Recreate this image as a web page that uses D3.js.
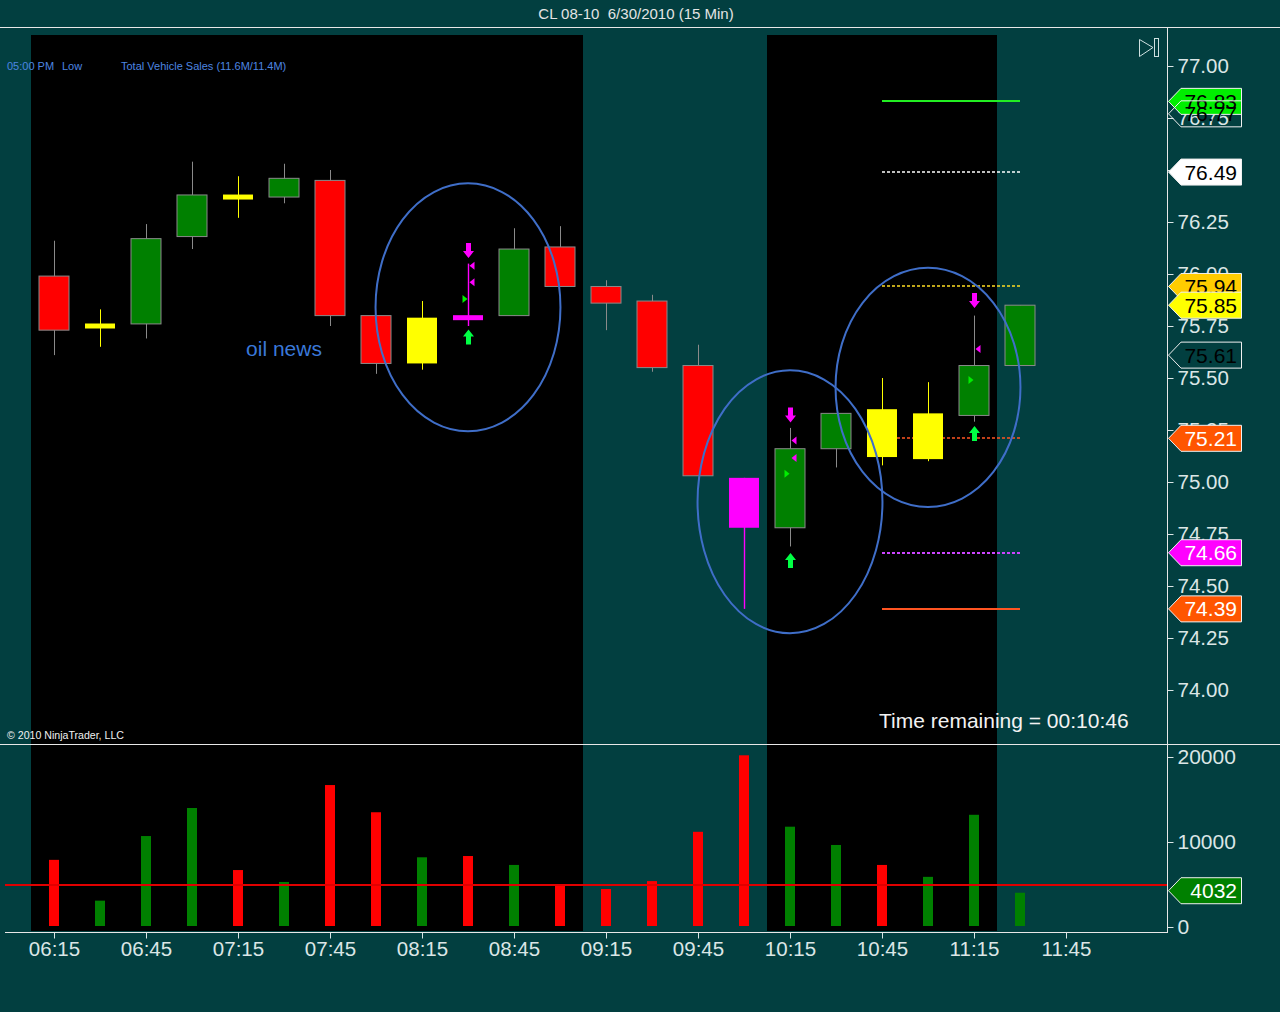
<!DOCTYPE html>
<html><head><meta charset="utf-8">
<script src="https://cdn.jsdelivr.net/npm/d3@7"></script>
<style>
html,body{margin:0;padding:0;background:#023f40;}
svg{display:block;font-family:"Liberation Sans",Arial,sans-serif;}
</style></head><body>
<svg id="c" width="1280" height="1012"></svg>
<script>
// ---------- DATA ----------
const times = ["06:15","06:30","06:45","07:00","07:15","07:30","07:45","08:00","08:15","08:30","08:45","09:00","09:15","09:30","09:45","10:00","10:15","10:30","10:45","11:00","11:15","11:30","11:45"];
const opens  = [75.99,75.75,75.76,76.18,76.37,76.37,76.45,75.80,75.57,75.79,75.80,76.13,75.94,75.87,75.56,75.02,74.78,75.16,75.35,75.11,75.32,75.56];
const highs  = [76.16,75.83,76.24,76.54,76.47,76.53,76.50,75.80,75.87,76.05,76.22,76.23,75.97,75.90,75.66,75.02,75.26,75.33,75.50,75.48,75.80,75.85];
const lows   = [75.61,75.65,75.69,76.12,76.27,76.34,75.75,75.52,75.54,75.75,75.80,75.94,75.73,75.53,75.03,74.39,74.69,75.07,75.08,75.10,75.29,75.56];
const closes = [75.73,75.75,76.17,76.38,76.37,76.46,75.80,75.57,75.79,75.79,76.12,75.94,75.86,75.55,75.03,74.78,75.16,75.33,75.12,75.33,75.56,75.85];
const candleColors = ["red","yellow","green","green","yellow","green","red","red","yellow","magenta","green","red","red","red","red","magenta","green","green","yellow","yellow","green","green"];
const volumes = [7900,3100,10700,14000,6700,5300,16700,13500,8200,8350,7300,5050,4470,5400,11200,20200,11800,9650,7300,5900,13200,4032];
const volColors = ["red","green","green","green","red","green","red","red","green","red","green","red","red","red","red","red","green","green","red","green","green","green"];
const volAverage = 4950;
const priceTicks = [74.00,74.25,74.50,74.75,75.00,75.25,75.50,75.75,76.00,76.25,76.50,76.75,77.00];
const volTicks = [0,10000,20000];
const timeTickIdx = [0,2,4,6,8,10,12,14,16,18,20,22];
const sessionBands = [[-0.5,11.5],[15.5,20.5]];

const levelPrices = [76.83,76.49,75.94,75.21,74.66,74.39];
const levelColors = ["#22ee22","#ffffff","#ffdd22","#ff5522","#cc44ff","#ff5522"];
const levelDashed = [false,true,true,true,true,false];
const levelWidths = [2,1.3,1.3,1.6,1.8,2];
const levelFrom = 18, levelTo = 21;

const tagPrices = [76.83,76.77,76.49,75.94,75.85,75.61,75.21,74.66,74.39];
const tagFills  = ["#00ee00","none","#ffffff","#ffcc00","#ffff00","none","#ff5500","#ff00ff","#ff5500"];
const tagText   = ["#000","#000","#000","#000","#000","#000","#fff","#fff","#fff"];

const markerIdx   = [9,9,9,9,9, 16,16,16,16,16, 20,20,20,20];
const markerPrice = [76.11,76.04,75.96,75.88,75.70, 75.32,75.20,75.115,75.04,74.625, 75.87,75.64,75.49,75.235];
const markerType  = ["down","tl","tl","tr","up", "down","tl","tl","tr","up", "down","tl","tr","up"];

const ellipseIdx = [9,16,19];
const ellipsePrice = [75.84,74.905,75.455];
const ellipseHalfBars = [2.01,2.01,2.01];
const ellipseHalfPrice = [0.596,0.632,0.575];

// ---------- SCALES ----------
const svg = d3.select("#c");
const x = d3.scaleLinear().domain([0,22]).range([54,1066]);
const yP = d3.scaleLinear().domain([74,77]).range([690,66]);
const yV = d3.scaleLinear().domain([0,20000]).range([927,757]);
const axisX = 1167;
const colorMap = {red:"#ff0000",green:"#008000",yellow:"#ffff00",magenta:"#ff00ff"};
const fg = "#dbe6e6";
const FONT = "\"Liberation Sans\",Arial,sans-serif";

// background
svg.append("rect").attr("width",1280).attr("height",1012).attr("fill","#023f40");

// session bands
svg.selectAll("rect.band").data(sessionBands).join("rect").attr("class","band")
  .attr("x",d=>x(d[0])).attr("width",d=>x(d[1])-x(d[0]))
  .attr("y",35).attr("height",896).attr("fill","#000");

// title + frame lines
svg.append("text").attr("x",636).attr("y",19).attr("text-anchor","middle")
  .attr("fill","#e4e4e4").attr("font-size",15).text("CL 08-10\u00A0\u00A06/30/2010 (15 Min)");
svg.append("line").attr("x1",0).attr("x2",1280).attr("y1",27.5).attr("y2",27.5).attr("stroke","#e8e8e8");
svg.append("line").attr("x1",0).attr("x2",1280).attr("y1",744.5).attr("y2",744.5).attr("stroke","#e8e8e8");

// event text
const ev = svg.append("g").attr("font-size",11).attr("fill","#4d86e0");
ev.append("text").attr("x",7).attr("y",70).text("05:00 PM");
ev.append("text").attr("x",62).attr("y",70).text("Low");
ev.append("text").attr("x",121).attr("y",70).text("Total Vehicle Sales (11.6M/11.4M)");
svg.append("text").attr("x",7).attr("y",739).attr("font-size",10.6).attr("fill","#f0f0f0").text("\u00A9 2010 NinjaTrader, LLC");

// level lines
svg.selectAll("line.lvl").data(levelPrices).join("line").attr("class","lvl")
  .attr("x1",x(levelFrom)).attr("x2",x(levelTo))
  .attr("y1",d=>Math.round(yP(d))).attr("y2",d=>Math.round(yP(d)))
  .attr("stroke",(d,i)=>levelColors[i]).attr("stroke-width",(d,i)=>levelWidths[i])
  .attr("stroke-dasharray",(d,i)=>levelDashed[i]?"3,2":null);

// candles
const cg = svg.append("g");
const bw = 30;
opens.forEach((o,i)=>{
  const c = closes[i], col = candleColors[i];
  const cx = x(i);
  const wickCol = (col==="yellow")?"#ffff00":(col==="magenta"?"#ff00ff":"#8a8a8a");
  cg.append("line").attr("x1",cx+0.5).attr("x2",cx+0.5).attr("y1",yP(highs[i])).attr("y2",yP(lows[i]))
    .attr("stroke",wickCol).attr("stroke-width",(col==="magenta")?1.4:1);
  let top = yP(Math.max(o,c)), bot = yP(Math.min(o,c));
  if (bot-top < 5) { const m=(top+bot)/2; top=m-2.5; bot=m+2.5; }
  cg.append("rect").attr("x",cx-bw/2).attr("width",bw).attr("y",top).attr("height",bot-top)
    .attr("fill",colorMap[col])
    .attr("stroke",(col==="red"||col==="green")?"#8a8a8a":"none").attr("stroke-width",1);
});

// markers
const mg = svg.append("g");
markerIdx.forEach((idx,k)=>{
  const cx = x(idx)+0.5, cy = yP(markerPrice[k]), t = markerType[k];
  if (t==="down") {
    mg.append("path").attr("d",`M${cx-2.5},${cy-8} h5 v8 h3 l-5.5,7 l-5.5,-7 h3 z`).attr("fill","#ff00ff");
  } else if (t==="up") {
    mg.append("path").attr("d",`M${cx-2.5},${cy+8} h5 v-8 h3 l-5.5,-7 l-5.5,7 h3 z`).attr("fill","#00ff44");
  } else if (t==="tl") {
    mg.append("path").attr("d",`M${cx+1},${cy} l5,-4 v8 z`).attr("fill","#ff00ff");
  } else if (t==="tr") {
    mg.append("path").attr("d",`M${cx-1},${cy} l-5,-4 v8 z`).attr("fill","#00ee00");
  }
});

// ellipses
svg.selectAll("ellipse.ann").data(ellipseIdx).join("ellipse").attr("class","ann")
  .attr("cx",(d)=>x(d)).attr("cy",(d,i)=>yP(ellipsePrice[i]))
  .attr("rx",(d,i)=>x(ellipseHalfBars[i])-x(0))
  .attr("ry",(d,i)=>yP(0)-yP(ellipseHalfPrice[i])+0)
  .attr("fill","none").attr("stroke","#3f6ec8").attr("stroke-width",2);

svg.append("text").attr("x",x(5)).attr("y",yP(75.64)).attr("text-anchor","middle").attr("dy","0.35em")
  .attr("font-size",21).attr("fill","#3a78d8").text("oil news");

svg.append("text").attr("x",879).attr("y",728).attr("font-size",21).attr("fill","#f2f2f2").text("Time remaining = 00:10:46");

// volume
svg.append("g").selectAll("rect").data(volumes).join("rect")
  .attr("x",(d,i)=>x(i)-5).attr("width",10)
  .attr("y",d=>yV(d)).attr("height",d=>yV(0)-yV(d)-1)
  .attr("fill",(d,i)=>colorMap[volColors[i]]);
svg.append("line").attr("x1",5).attr("x2",axisX).attr("y1",Math.round(yV(volAverage))).attr("y2",Math.round(yV(volAverage)))
  .attr("stroke","#e00000").attr("stroke-width",2);

// axes
const pAxis = d3.axisRight(yP).tickValues(priceTicks).tickSize(6).tickPadding(4).tickFormat(d3.format(".2f"));
const gp = svg.append("g").attr("transform",`translate(${axisX+0.5},0)`).call(pAxis);
const vAxis = d3.axisRight(yV).tickValues(volTicks).tickSize(6).tickPadding(4).tickFormat(d3.format("d"));
const gv = svg.append("g").attr("transform",`translate(${axisX+0.5},0)`).call(vAxis);
const tAxis = d3.axisBottom(x).tickValues(timeTickIdx).tickSize(6).tickPadding(3).tickFormat(i=>times[i]);
const gt = svg.append("g").attr("transform","translate(0,932.5)").call(tAxis);
[gp,gv,gt].forEach(g=>{
  g.select(".domain").remove();
  g.selectAll(".tick line").attr("stroke",fg);
  g.selectAll(".tick text").attr("fill",fg).attr("font-size",20.5).attr("font-family",FONT);
});
gv.selectAll(".tick text").attr("font-size",21);
svg.append("line").attr("x1",axisX+0.5).attr("x2",axisX+0.5).attr("y1",28).attr("y2",933).attr("stroke","#e8e8e8");
svg.append("line").attr("x1",5).attr("x2",axisX).attr("y1",932.5).attr("y2",932.5).attr("stroke","#e8e8e8");

// price tags
function tag(yc, txt, fill, tcol){
  const g = svg.append("g");
  g.append("path").attr("d",`M${axisX+1.5},${yc} L${axisX+14},${yc-13} H1241.5 V${yc+13} H${axisX+14} Z`)
    .attr("fill",fill).attr("stroke","#f0f0f0").attr("stroke-width",1);
  g.append("text").attr("x",1237).attr("y",yc).attr("dy","0.36em").attr("text-anchor","end")
    .attr("font-size",21).attr("fill",tcol).text(txt);
}
tagPrices.forEach((p,i)=>tag(yP(p), d3.format(".2f")(p), tagFills[i], tagText[i]));
tag(yV(volumes[volumes.length-1])-2, String(volumes[volumes.length-1]), "#008000", "#fff");

// icon
svg.append("path").attr("d","M1139.5,39.5 L1153,47.5 L1139.5,56.5 Z").attr("fill","none").attr("stroke","#cfe0e0");
svg.append("rect").attr("x",1154.5).attr("y",38.5).attr("width",4).attr("height",18).attr("fill","none").attr("stroke","#cfe0e0");
</script>
</body></html>
